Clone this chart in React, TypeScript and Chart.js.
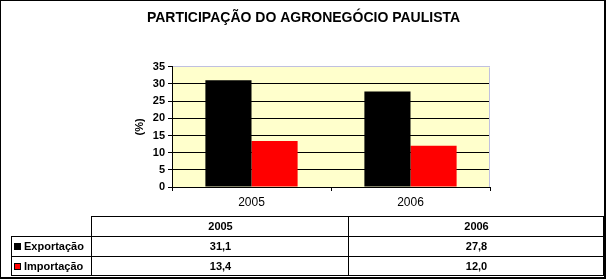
import React, { useEffect, useRef } from "react";
import { Chart, registerables } from "chart.js";

Chart.register(...registerables);

const TITLE = "PARTICIPAÇÃO DO AGRONEGÓCIO PAULISTA";
const categories = ["2005", "2006"];
const seriesNames = ["Exportação", "Importação"];
const exportacao = [31.1, 27.8];
const importacao = [13.4, 12.0];
const seriesColors = ["#000000", "#FF0000"];
const yAxisTitle = "(%)";

const FONT = "Arial, 'Liberation Sans', sans-serif";

const fmt = (v: number) => v.toFixed(1).replace(".", ",");

const plotDecor = {
  id: "plotDecor",
  beforeDraw(chart: any) {
    const { ctx, chartArea } = chart;
    ctx.save();
    ctx.fillStyle = "#FFFFFF";
    ctx.fillRect(0, 0, chart.width, chart.height);
    ctx.fillStyle = "#FFFFCC";
    ctx.fillRect(chartArea.left, chartArea.top, chartArea.right - chartArea.left, chartArea.bottom - chartArea.top);
    ctx.restore();
  },
  afterDatasetsDraw(chart: any) {
    const { ctx, chartArea } = chart;
    ctx.save();
    ctx.strokeStyle = "#C0C0E0";
    ctx.lineWidth = 1;
    ctx.beginPath();
    const r = Math.round(chartArea.right) - 0.5;
    ctx.moveTo(r, Math.round(chartArea.top) + 0.5);
    ctx.lineTo(r, Math.round(chartArea.bottom));
    ctx.stroke();
    ctx.restore();
  },
  afterDraw(chart: any) {
    const { ctx } = chart;
    ctx.save();
    // data table
    const xL = 12, xH = 92, xM = 349, xR = 604;
    const yH = 217, y1 = 237, y2 = 257, yB = 276;
    ctx.strokeStyle = "#000000";
    ctx.lineWidth = 1;
    ctx.beginPath();
    const h = (x0: number, x1: number, y: number) => { ctx.moveTo(x0, y - 0.5); ctx.lineTo(x1, y - 0.5); };
    const v = (x: number, y0: number, y1_: number) => { ctx.moveTo(x - 0.5, y0); ctx.lineTo(x - 0.5, y1_); };
    h(xH, xR, yH);
    h(xL, xR, y1);
    h(xL, xR, y2);
    h(xL, xR, yB);
    v(xL, y1 - 1, yB);
    v(xH, yH - 1, yB);
    v(xM, yH - 1, yB);
    v(xR, yH - 1, yB);
    ctx.stroke();

    ctx.fillStyle = "#000000";
    ctx.font = `bold 11px ${FONT}`;
    ctx.textBaseline = "middle";
    ctx.textAlign = "center";
    const cols = [(xH + xM) / 2, (xM + xR) / 2];
    categories.forEach((c, i) => ctx.fillText(c, cols[i], (yH + y1) / 2));
    const rows = [exportacao, importacao];
    const rowY = [(y1 + y2) / 2, (y2 + yB) / 2];
    rows.forEach((vals, r) => {
      vals.forEach((val, i) => ctx.fillText(fmt(val), cols[i], rowY[r]));
    });
    ctx.textAlign = "left";
    seriesNames.forEach((name, r) => {
      const cy = rowY[r];
      ctx.fillStyle = seriesColors[r];
      ctx.fillRect(14, Math.round(cy) - 4, 7, 7);
      ctx.strokeStyle = "#000000";
      ctx.strokeRect(14.5, Math.round(cy) - 3.5, 6, 6);
      ctx.fillStyle = "#000000";
      ctx.fillText(name, 24, cy);
    });

    // outer frame
    ctx.fillStyle = "#000000";
    ctx.fillRect(0, 0, 606, 1);
    ctx.fillRect(0, 0, 1, 279);
    ctx.fillRect(604, 0, 2, 279);
    ctx.fillRect(0, 277, 606, 2);
    ctx.restore();
  },
};

export default function App() {
  const ref = useRef<HTMLCanvasElement | null>(null);

  useEffect(() => {
    document.body.style.margin = "0";
    const canvas = ref.current;
    if (!canvas) return;
    const chart = new Chart(canvas, {
      type: "bar",
      data: {
        labels: categories,
        datasets: [
          { label: seriesNames[0], data: exportacao, backgroundColor: seriesColors[0], borderWidth: 0 },
          { label: seriesNames[1], data: importacao, backgroundColor: seriesColors[1], borderWidth: 0 },
        ],
      },
      options: {
        animation: false,
        responsive: false,
        devicePixelRatio: 1,
        events: [],
        layout: { padding: { left: 0, right: 0, top: 0, bottom: 63 } },
        datasets: { bar: { categoryPercentage: 0.58, barPercentage: 1 } } as any,
        plugins: {
          legend: { display: false },
          tooltip: { enabled: false },
          title: {
            display: true,
            text: TITLE,
            color: "#000000",
            font: { family: FONT, size: 14, weight: "bold" },
            padding: { top: 10, bottom: 40 },
          },
        },
        scales: {
          x: {
            grid: { display: true, drawOnChartArea: false, drawTicks: true, tickLength: 4, color: "#000000", offset: true },
            border: { display: true, color: "#000000" },
            ticks: { color: "#000000", font: { family: FONT, size: 12 }, padding: 4, maxRotation: 0 },
            afterFit: (s: any) => { s.height = 30; },
          },
          y: {
            min: 0,
            max: 35,
            ticks: { stepSize: 5, color: "#000000", font: { family: FONT, size: 11, weight: "bold" }, padding: 3 },
            grid: {
              color: (c: any) => (c.tick && c.tick.value === 35 ? "#C0C0E0" : "#000000"),
              tickColor: "#000000",
              tickLength: 4,
              lineWidth: 1,
            },
            border: { display: true, color: "#000000" },
            title: {
              display: true,
              text: yAxisTitle,
              color: "#000000",
              font: { family: FONT, size: 11, weight: "bold" },
              padding: { top: 133, bottom: 0 },
            },
            afterFit: (s: any) => { s.width = 172; },
          },
          yRight: {
            position: "right",
            display: true,
            min: 0,
            max: 35,
            grid: { display: false, drawOnChartArea: false, drawTicks: false },
            border: { display: false },
            ticks: { display: false },
            afterFit: (s: any) => { s.width = 117; },
          },
        },
      },
      plugins: [plotDecor],
    });
    return () => chart.destroy();
  }, []);

  return (
    <div style={{ position: "absolute", left: 0, top: 0, width: 607, height: 280 }}>
      <canvas ref={ref} width={607} height={280} style={{ display: "block" }} />
    </div>
  );
}
